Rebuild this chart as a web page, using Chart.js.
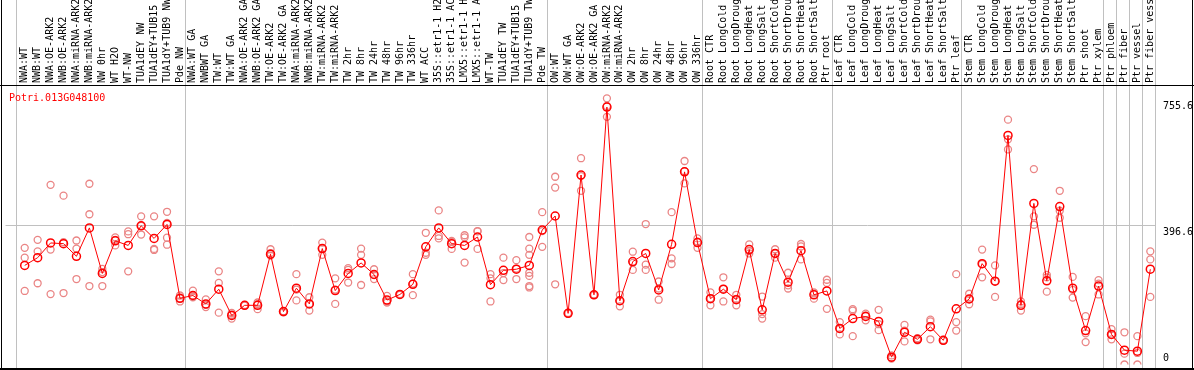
<!DOCTYPE html>
<html>
<head>
<meta charset="utf-8">
<script src="https://cdn.jsdelivr.net/npm/chart.js@4.4.0/dist/chart.umd.min.js"></script>
<style>
  html, body { margin: 0; padding: 0; background: #fff; }
  #wrap { width: 1194px; height: 370px; position: relative; }
</style>
</head>
<body>
<div id="wrap"><canvas id="exprChart" width="1194" height="370"></canvas></div>
<script>
// gene shown in the panel
const geneName = 'Potri.013G048100';

// sample names, left to right
const samples = [
    'NWA:WT', 'NWB:WT', 'NWA:OE-ARK2', 'NWB:OE-ARK2', 'NWA:miRNA-ARK2', 'NWB:miRNA-ARK2',
    'NW 0hr', 'WT H2O', 'WT-NW', 'TUA1dEY NW', 'TUA1dEY+TUB15', 'TUA1dY+TUB9 NW', 'Pde NW',
    'NWA:WT GA', 'NWBWT GA', 'TW:WT', 'TW:WT GA', 'NWA:OE-ARK2 GA', 'NWB:OE-ARK2 GA',
    'TW:OE-ARK2', 'TW:OE-ARK2 GA', 'NWA:miRNA-ARK2', 'NWB:miRNA-ARK2', 'TW:miRNA-ARK2',
    'TW:miRNA-ARK2', 'TW 2hr', 'TW 8hr', 'TW 24hr', 'TW 48hr', 'TW 96hr', 'TW 336hr', 'WT ACC',
    '35S::etr1-1 H2O', '35S::etr1-1 ACC', 'LMX5::etr1-1 H2O', 'LMX5::etr1-1 ACC', 'WT-TW',
    'TUA1dEY TW', 'TUA1dEY+TUB15', 'TUA1dY+TUB9 TW', 'Pde TW',
    'OW:WT', 'OW:WT GA', 'OW:OE-ARK2', 'OW:OE-ARK2 GA', 'OW:miRNA-ARK2', 'OW:miRNA-ARK2',
    'OW 2hr', 'OW 8hr', 'OW 24hr', 'OW 48hr', 'OW 96hr', 'OW 336hr',
    'Root CTR', 'Root LongCold', 'Root LongDrought', 'Root LongHeat', 'Root LongSalt',
    'Root ShortCold', 'Root ShortDrought', 'Root ShortHeat', 'Root ShortSalt', 'Ptr root',
    'Leaf CTR', 'Leaf LongCold', 'Leaf LongDrought', 'Leaf LongHeat', 'Leaf LongSalt',
    'Leaf ShortCold', 'Leaf ShortDrought', 'Leaf ShortHeat', 'Leaf ShortSalt', 'Ptr leaf',
    'Stem CTR', 'Stem LongCold', 'Stem LongDrought', 'Stem LongHeat', 'Stem LongSalt',
    'Stem ShortCold', 'Stem ShortDrought', 'Stem ShortHeat', 'Stem ShortSalt', 'Ptr shoot',
    'Ptr xylem', 'Ptr phloem', 'Ptr fiber', 'Ptr vessel', 'Ptr fiber vessel'
];

// mean expression per sample
const meanExpr = [
    283, 305, 347, 345, 309, 390, 260, 353, 340, 396, 360, 400, 189,
    197, 173, 215, 140, 169, 169, 315, 151, 218, 173, 331, 211,
    260, 290, 257, 184, 200, 229, 336, 390, 345, 340, 364, 228, 269, 272, 283, 384,
    424, 146, 541, 199, 735, 182, 294, 317, 213, 343, 550, 348,
    188, 215, 185, 328, 156, 317, 235, 325, 199, 210,
    103, 131, 137, 123, 21, 92, 72, 108, 69, 159,
    187, 288, 238, 654, 169, 460, 239, 451, 218, 97, 224,
    86, 41, 38, 272
];

// single replicates per sample
const replicateExpr = [
    [333, 305, 210], [356, 323, 232], [513, 328, 201], [482, 349, 204], [354, 331, 244],
    [516, 429, 224], [273, 264, 224], [363, 356, 340], [380, 372, 266], [423, 371, 396],
    [423, 327, 330], [436, 404, 362, 342], [197, 180, 189],
    [211, 192, 197], [186, 164, 170], [266, 233, 148], [147, 131, 142], [169, 168, 170],
    [177, 158, 172], [329, 318, 311], [152, 149, 151], [258, 183, 214], [192, 154, 173],
    [348, 313, 331], [246, 173, 214],
    [275, 270, 234], [331, 313, 227], [272, 244, 256], [196, 177, 180], [200, 199, 201],
    [258, 198, 231], [376, 319, 313], [440, 367, 360], [353, 330, 350], [369, 363, 291],
    [381, 330, 380], [258, 180, 246], [305, 241, 261], [298, 244, 274],
    [364, 331, 313, 262, 253, 224, 220], [435, 336, 381],
    [536, 505, 229], [146, 145, 147], [589, 496, 538], [199, 198, 200], [760, 707, 738],
    [199, 166, 181], [322, 270, 290], [401, 285, 270], [237, 185, 217], [435, 303, 287],
    [581, 517, 552], [360, 333, 351],
    [206, 169, 189], [249, 180, 216], [199, 169, 187], [343, 324, 317], [194, 144, 131],
    [329, 305, 317], [262, 217, 226], [344, 337, 300], [206, 188, 203], [242, 233, 159],
    [121, 86, 102], [158, 154, 81], [145, 140, 126], [156, 98, 115], [20, 17, 26],
    [113, 66, 97], [75, 69, 72], [128, 123, 72], [70, 68, 69], [258, 121, 97],
    [202, 187, 172], [328, 249, 287], [283, 193, 238], [699, 643, 614], [180, 154, 173],
    [558, 423, 399], [256, 249, 208], [496, 439, 419], [250, 191, 213], [138, 64, 89],
    [241, 231, 200],
    [101, 72, 85], [92, 0, 31], [81, 0, 33], [323, 300, 193]
];

// right axis ticks
const yTickValues = [0, 396.6, 755.6];
const yTickLabels = ['0', '396.6', '755.6'];

// last sample index of each block (a gray rule is drawn after it)
const groupEnds = [-1, 12, 40, 52, 62, 72, 83, 84, 85, 86, 87];

const monoFont = 'DejaVu Sans Mono';

const repPoints = [];
replicateExpr.forEach((reps, i) => {
    reps.forEach(v => repPoints.push({ x: i, y: v }));
});

// separators, frame, gene name and right-hand labels
const framePlugin = {
    id: 'frame',
    beforeDatasetsDraw(chart) {
        const ctx = chart.ctx;
        const xs = chart.scales.x;
        ctx.save();
        ctx.strokeStyle = '#c0c0c0';
        ctx.lineWidth = 1;
        groupEnds.forEach(g => {
            const px = Math.round(xs.getPixelForValue(g + 0.36)) + 0.5;
            ctx.beginPath();
            ctx.moveTo(px, 0);
            ctx.lineTo(px, chart.height);
            ctx.stroke();
        });
        ctx.restore();
    },
    afterDraw(chart) {
        const ctx = chart.ctx;
        const area = chart.chartArea;
        const ys = chart.scales.y;
        ctx.save();
        ctx.fillStyle = '#000';
        ctx.fillRect(1, 0, 1, chart.height);
        ctx.fillRect(1192, 0, 1, chart.height);
        ctx.fillRect(0, 85, chart.width, 1);
        ctx.fillRect(0, 368, chart.width, 2);

        ctx.font = '10px "' + monoFont + '"';
        ctx.textBaseline = 'alphabetic';
        ctx.textAlign = 'left';
        yTickValues.forEach((v, i) => {
            const py = Math.min(ys.getPixelForValue(v) + 9, area.bottom - 3.5);
            ctx.fillText(yTickLabels[i], 1163, py);
        });

        ctx.fillStyle = '#ff0000';
        ctx.fillText(geneName, 9, 101);
        ctx.restore();
    }
};

const ctx = document.getElementById('exprChart').getContext('2d');
const exprChart = new Chart(ctx, {
    type: 'line',
    data: {
        datasets: [{
            label: 'mean',
            data: meanExpr.map((v, i) => ({ x: i, y: v })),
            borderColor: '#ff0000',
            borderWidth: 1,
            tension: 0,
            fill: false,
            pointRadius: 4,
            pointBorderWidth: 1.5,
            pointBorderColor: '#ff0000',
            pointBackgroundColor: 'rgba(0,0,0,0)'
        }, {
            type: 'scatter',
            label: 'replicates',
            data: repPoints,
            showLine: false,
            pointRadius: 3.5,
            pointBorderWidth: 1.3,
            pointBorderColor: '#ea8585',
            pointBackgroundColor: 'rgba(0,0,0,0)'
        }]
    },
    options: {
        responsive: false,
        maintainAspectRatio: false,
        animation: false,
        layout: { padding: { left: 0, right: 0, top: 0, bottom: 1 } },
        plugins: {
            legend: { display: false },
            tooltip: { enabled: false }
        },
        scales: {
            x: {
                type: 'linear',
                position: 'top',
                bounds: 'data',
                min: -1.4846,
                max: 87.362,
                afterBuildTicks: function(scale) {
                    scale.ticks = samples.map((s, i) => ({ value: i }));
                },
                afterFit: function(scale) {
                    scale.height = 85;
                },
                grid: { display: false, drawTicks: false },
                border: { display: false },
                ticks: {
                    autoSkip: false,
                    minRotation: 90,
                    maxRotation: 90,
                    padding: 2,
                    labelOffset: 12,
                    color: '#000',
                    font: { family: monoFont, size: 10 },
                    callback: function(value) {
                        return samples[value] !== undefined ? samples[value] : '';
                    }
                }
            },
            y: {
                type: 'linear',
                position: 'right',
                bounds: 'data',
                min: 0,
                max: 798,
                afterBuildTicks: function(scale) {
                    scale.ticks = yTickValues.map(v => ({ value: v }));
                },
                afterFit: function(scale) {
                    scale.width = 39;
                },
                grid: {
                    drawTicks: false,
                    color: function(c) {
                        return c.tick && c.tick.value === 396.6 ? '#c0c0c0' : 'rgba(0,0,0,0)';
                    }
                },
                border: { display: false },
                ticks: { display: false }
            }
        }
    },
    plugins: [framePlugin]
});
</script>
</body>
</html>
